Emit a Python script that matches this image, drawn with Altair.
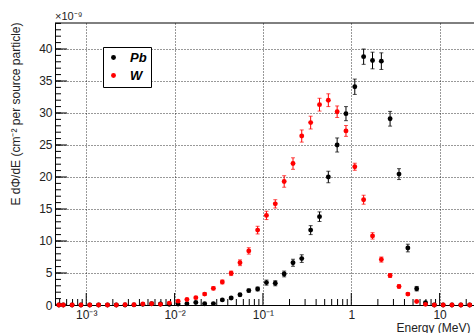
import altair as alt
import pandas as pd

# Energy bin centres (MeV)
energy = [4.9e-4, 5.5e-4, 6.92e-4, 8.71e-4, 1.096e-3, 1.38e-3, 1.74e-3, 2.19e-3, 2.75e-3, 3.47e-3,
          4.37e-3, 5.5e-3, 6.92e-3, 8.71e-3, 1.096e-2, 1.38e-2, 1.74e-2, 2.19e-2, 2.75e-2, 3.47e-2,
          4.37e-2, 5.5e-2, 6.92e-2, 8.71e-2, 0.1096, 0.138, 0.174, 0.219, 0.275, 0.347,
          0.437, 0.55, 0.692, 0.871, 1.096, 1.38, 1.74, 2.19, 2.75, 3.47,
          4.37, 5.5, 6.92, 8.71, 10.96, 13.8, 17.4, 21.9]

# Values in units of 1e-9
pb_val = [0, 0, 0, 0, 0, 0, 0, 0, 0, 0.02,
          0.1, 0.2, 0.15, 0.1, 0.15, 0.2, 0.4, 0.2, 0.22, 0.8,
          1.1, 1.6, 2.25, 2.5, 3.5, 3.4, 4.85, 6.6, 7.25, 11.7,
          13.8, 20.0, 25.0, 29.9, 34.1, 38.8, 38.2, 38.1, 29.1, 20.45,
          8.9, 2.55, 0.36, 0, 0, 0, 0, 0]
pb_err = [0, 0, 0, 0, 0, 0, 0, 0, 0, 0.03,
          0.05, 0.05, 0.05, 0.05, 0.05, 0.05, 0.08, 0.05, 0.05, 0.1,
          0.15, 0.2, 0.25, 0.3, 0.4, 0.4, 0.45, 0.55, 0.6, 0.7,
          0.75, 0.9, 1.1, 1.1, 1.2, 1.2, 1.3, 1.3, 1.15, 0.85,
          0.6, 0.35, 0.1, 0, 0, 0, 0, 0]
w_val = [0, 0, 0, 0, 0, 0, 0, 0, 0.05, 0.05,
         0.15, 0.2, 0.1, 0.3, 0.6, 0.85, 1.15, 1.7, 2.6, 3.6,
         4.95, 6.6, 8.45, 11.7, 14.0, 15.8, 19.3, 22.1, 26.4, 28.5,
         31.3, 32.0, 30.2, 27.2, 21.6, 16.45, 10.8, 7.1, 4.6, 2.9,
         1.7, 0.55, 0.1, 0, 0, 0, 0, 0]
w_err = [0, 0, 0, 0, 0, 0, 0, 0, 0.03, 0.03,
         0.05, 0.05, 0.05, 0.08, 0.1, 0.12, 0.15, 0.2, 0.25, 0.3,
         0.35, 0.45, 0.5, 0.6, 0.65, 0.65, 0.9, 0.9, 0.95, 1.0,
         1.0, 1.0, 0.9, 0.85, 0.55, 0.7, 0.5, 0.4, 0.3, 0.25,
         0.2, 0.1, 0.05, 0, 0, 0, 0, 0]

series = ["Pb", "W"]
colors = ["#000000", "#ff0000"]

y_major = [0, 5, 10, 15, 20, 25, 30, 35, 40]
y_minor = [0, 1, 2, 3, 4, 5, 6, 7, 8, 9, 10, 11, 12, 13, 14, 15, 16, 17, 18, 19, 20, 21, 22,
           23, 24, 25, 26, 27, 28, 29, 30, 31, 32, 33, 34, 35, 36, 37, 38, 39, 40, 41, 42, 43, 44]
x_major = [1e-3, 1e-2, 1e-1, 1, 10]
x_minor = [5e-4, 6e-4, 7e-4, 8e-4, 9e-4,
           2e-3, 3e-3, 4e-3, 5e-3, 6e-3, 7e-3, 8e-3, 9e-3,
           2e-2, 3e-2, 4e-2, 5e-2, 6e-2, 7e-2, 8e-2, 9e-2,
           0.2, 0.3, 0.4, 0.5, 0.6, 0.7, 0.8, 0.9,
           2, 3, 4, 5, 6, 7, 8, 9, 20]

rows = []
for name, vals, errs in [("Pb", pb_val, pb_err), ("W", w_val, w_err)]:
    for e, v, s in zip(energy, vals, errs):
        rows.append({"E": e, "v": v, "lo": v - s, "hi": v + s, "mat": name})
df = pd.DataFrame(rows)

W, H = 419, 282
FONT = "Liberation Sans"
xscale = alt.Scale(type="log", domain=[4.43e-4, 24.5], nice=False)
yscale = alt.Scale(domain=[0, 44.06], nice=False, zero=False)
cscale = alt.Scale(domain=series, range=colors)

label_expr = ("datum.value < 0.005 ? '10⁻³' : datum.value < 0.05 ? '10⁻²' : "
              "datum.value < 0.5 ? '10⁻¹' : datum.value < 5 ? '1' : '10'")

xaxis = alt.Axis(values=x_major, labelExpr=label_expr, grid=True, ticks=False,
                 title="Energy (MeV)", titleAnchor="end", titleAlign="right",
                 titleX=415, titleY=26, titleBaseline="alphabetic",
                 labelPadding=4, labelFontSize=12, titleFontSize=12,
                 labelFlush=False, labelOverlap=False)
yaxis = alt.Axis(values=y_major, grid=True, ticks=False,
                 title="E dΦ/dE (cm⁻² per source particle)",
                 titleAnchor="end", titleAlign="right", titleAngle=-90,
                 titleX=-36, titleY=-1, titleBaseline="alphabetic",
                 labelPadding=3, labelFontSize=12, titleFontSize=12)
legend = alt.Legend(orient="none", legendX=48, legendY=24, title=None,
                    fillColor="white", strokeColor="black", padding=4,
                    symbolType="circle", symbolSize=24, symbolStrokeWidth=0,
                    symbolOpacity=1,
                    labelFont=FONT, labelFontStyle="italic",
                    labelFontWeight="bold", labelFontSize=13,
                    labelColor="black", labelOffset=10, rowPadding=4,
                    labelExpr="datum.label + '   '")

base = alt.Chart(df)
col = alt.Color("mat:N", scale=cscale, legend=legend)

err = base.mark_rule(strokeWidth=1).encode(
    x=alt.X("E:Q", scale=xscale, axis=xaxis),
    y=alt.Y("lo:Q", scale=yscale, axis=yaxis),
    y2="hi:Q",
    color=col,
)
cap_lo = base.mark_tick(orient="horizontal", size=4, thickness=1).encode(
    x=alt.X("E:Q", scale=xscale, axis=xaxis),
    y=alt.Y("lo:Q", scale=yscale, axis=yaxis),
    color=col,
)
cap_hi = base.mark_tick(orient="horizontal", size=4, thickness=1).encode(
    x=alt.X("E:Q", scale=xscale, axis=xaxis),
    y=alt.Y("hi:Q", scale=yscale, axis=yaxis),
    color=col,
)
points = base.mark_circle(size=24, opacity=1).encode(
    x=alt.X("E:Q", scale=xscale, axis=xaxis),
    y=alt.Y("v:Q", scale=yscale, axis=yaxis),
    color=col,
    order=alt.Order("mat:N"),
)

ymaj = alt.Chart(pd.DataFrame({"t": y_major})).mark_rule(color="black", strokeWidth=1).encode(
    y=alt.Y("t:Q", scale=yscale, axis=yaxis), x=alt.value(0), x2=alt.value(12))
ymin = alt.Chart(pd.DataFrame({"t": y_minor})).mark_rule(color="black", strokeWidth=1).encode(
    y=alt.Y("t:Q", scale=yscale, axis=yaxis), x=alt.value(0), x2=alt.value(6))
xmaj = alt.Chart(pd.DataFrame({"t": x_major})).mark_rule(color="black", strokeWidth=1).encode(
    x=alt.X("t:Q", scale=xscale, axis=xaxis), y=alt.value(H), y2=alt.value(H - 12))
xmin = alt.Chart(pd.DataFrame({"t": x_minor})).mark_rule(color="black", strokeWidth=1).encode(
    x=alt.X("t:Q", scale=xscale, axis=xaxis), y=alt.value(H), y2=alt.value(H - 6))

frame_top = alt.Chart(pd.DataFrame({"k": [0]})).mark_rule(color="black", strokeWidth=1).encode(
    y=alt.value(0), x=alt.value(0), x2=alt.value(W))
exp_txt = alt.Chart(pd.DataFrame({"k": [0]})).mark_text(
    align="left", baseline="alphabetic", fontSize=11, font=FONT, color="#222").encode(
    x=alt.value(0), y=alt.value(-3), text=alt.value("×10⁻⁹"))

chart = alt.layer(ymin, ymaj, xmin, xmaj, err, cap_lo, cap_hi, points, frame_top, exp_txt).properties(
    width=W, height=H,
    autosize=alt.AutoSizeParams(type="none"),
    padding={"left": 55, "top": 23, "right": 0, "bottom": 28},
).configure_view(stroke=None).configure_axis(
    labelFont=FONT, titleFont=FONT, labelColor="#222", titleColor="#222",
    titleFontWeight="normal", domainColor="black", domainWidth=1,
    gridColor="black", gridDash=[1, 2], gridOpacity=0.8, gridWidth=1,
)

chart.save("out.html", embed_options={"renderer": "svg", "actions": False})
